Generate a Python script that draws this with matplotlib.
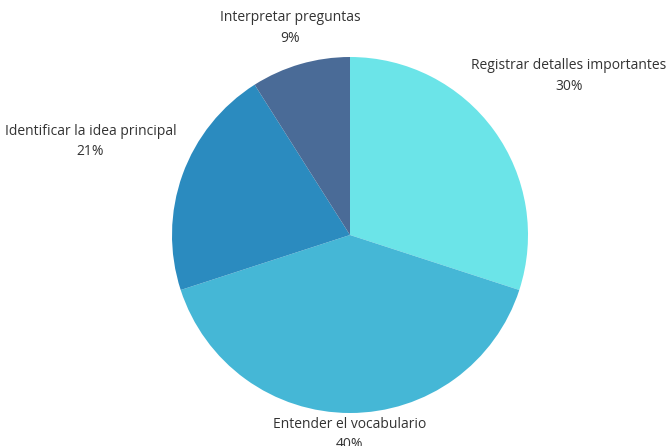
import numpy as np
import matplotlib
matplotlib.use("Agg")
import matplotlib.pyplot as plt

labels = ["Registrar detalles importantes", "Entender el vocabulario",
          "Identificar la idea principal", "Interpretar preguntas"]
values = [30, 40, 21, 9]
colors = ["#6be4e8", "#45b7d6", "#2b8bbf", "#4a6b97"]
# label distance from centre, in units of the radius
label_dist = [1.52, 1.12, 1.55, 1.21]

plt.rcParams['font.family'] = ['Open Sans', 'DejaVu Sans']

fig = plt.figure(figsize=(6.7, 4.46), dpi=100)
ax = fig.add_axes([0, 0, 1, 1])
cx, cy, r = 350, 446 - 235, 178

wedges, _ = ax.pie(values, colors=colors, startangle=90, counterclock=False,
                   center=(cx, cy), radius=r, wedgeprops=dict(linewidth=0))

total = sum(values)
for w, lab, v, d in zip(wedges, labels, values, label_dist):
    ang = np.deg2rad((w.theta1 + w.theta2) / 2)
    x = cx + d * r * np.cos(ang)
    y = cy + d * r * np.sin(ang)
    ax.text(x, y, f"{lab}\n{round(100 * v / total)}%", ha="center", va="center",
            fontsize=10, color="#333333", linespacing=1.5)

ax.set_xlim(0, 670)
ax.set_ylim(0, 446)
ax.set_aspect('equal')
ax.axis('off')
fig.savefig("out.png", dpi=100)
